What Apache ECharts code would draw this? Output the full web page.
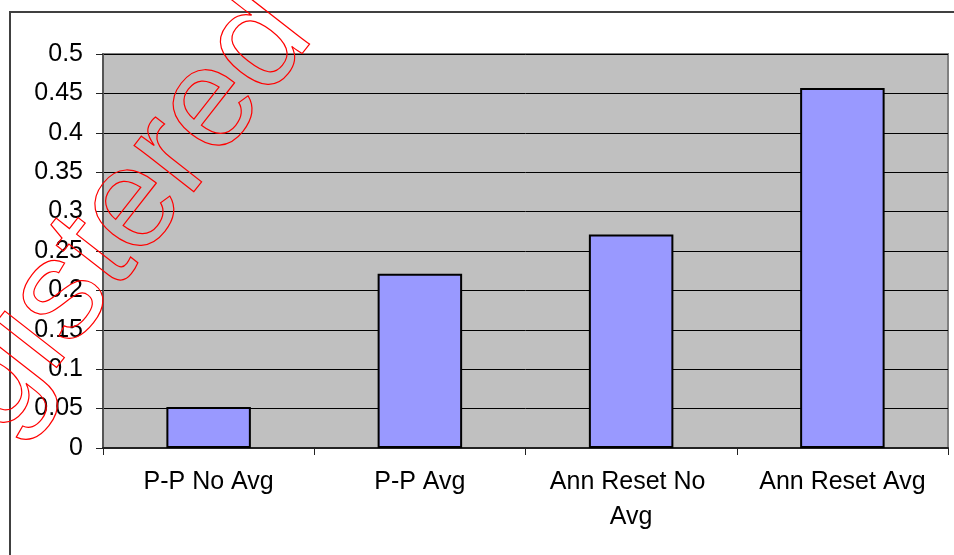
<!DOCTYPE html>
<html>
<head>
<meta charset="utf-8">
<script src="https://cdn.jsdelivr.net/npm/echarts@6/dist/echarts.min.js"></script>
<style>
  html, body { margin: 0; padding: 0; background: #ffffff; }
  #chart { width: 954px; height: 555px; }
</style>
</head>
<body>
<div id="chart"></div>
<script>
// Error rate per smoothing method
const categories = ['P-P No Avg', 'P-P Avg', 'Ann Reset No Avg', 'Ann Reset Avg'];
const values = [0.052, 0.221, 0.271, 0.457];
const yMin = 0;
const yMax = 0.5;
const yStep = 0.05;

const FONT = '"Liberation Sans", Arial, sans-serif';

const chart = echarts.init(document.getElementById('chart'), null, { renderer: 'canvas' });

chart.setOption({
  animation: false,
  backgroundColor: '#ffffff',
  grid: {
    left: 103, top: 54, right: 6, bottom: 107,
    show: true,
    backgroundColor: '#C0C0C0',
    borderColor: '#808080',
    borderWidth: 2
  },
  xAxis: {
    type: 'category',
    data: categories,
    axisLine: { show: true, lineStyle: { color: '#222222', width: 2 } },
    axisTick: { show: true, length: 7, alignWithLabel: false, lineStyle: { color: '#222222', width: 1 } },
    axisLabel: {
      interval: 0,
      margin: 17,
      color: '#000000',
      fontFamily: FONT,
      fontSize: 25,
      lineHeight: 35,
      width: 190,
      overflow: 'break',
      align: 'center'
    },
    splitLine: { show: false }
  },
  yAxis: {
    type: 'value',
    min: yMin,
    max: yMax,
    interval: yStep,
    axisLine: { show: true, lineStyle: { color: '#555555', width: 2 } },
    axisTick: { show: true, length: 7, lineStyle: { color: '#222222', width: 1 } },
    axisLabel: {
      margin: 20,
      color: '#000000',
      fontFamily: FONT,
      fontSize: 25
    },
    splitLine: { show: true, lineStyle: { color: '#000000', width: 1 } }
  },
  series: [{
    type: 'bar',
    data: values,
    barWidth: '40%',
    itemStyle: { color: '#9999FF', borderColor: '#000000', borderWidth: 2 }
  }],
  graphic: [
    {
      type: 'rect',
      silent: true,
      z: 0,
      shape: { x: 10, y: 12, width: 1000, height: 600 },
      style: { fill: 'none', stroke: '#404040', lineWidth: 2 }
    },
    {
      type: 'text',
      silent: true,
      z: 100,
      x: 32,
      y: 335,
      rotation: 52 * Math.PI / 180,
      style: {
        text: 'Unregistered',
        font: '143px ' + FONT,
        fill: 'none',
        stroke: '#FF0000',
        lineWidth: 1.2,
        align: 'center',
        verticalAlign: 'middle'
      }
    }
  ]
});
</script>
</body>
</html>
